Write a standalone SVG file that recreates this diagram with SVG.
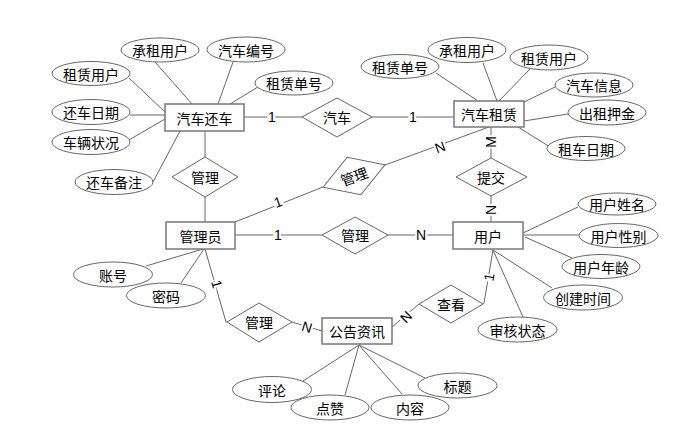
<svg xmlns="http://www.w3.org/2000/svg" width="692" height="441" viewBox="0 0 692 441">
<style>
.ent{fill:#fff;stroke:#777;stroke-width:1.5}
.rel{fill:#fff;stroke:#666;stroke-width:1}
.att{fill:#fff;stroke:#666;stroke-width:1}
.ln{stroke:#666;stroke-width:1;fill:none}
text{font-family:"Noto Sans CJK SC","Microsoft YaHei",sans-serif;font-size:14px;fill:#000;text-anchor:middle;dominant-baseline:central}
.lbl{stroke:#fff;stroke-width:4;paint-order:stroke;font-family:"Liberation Sans",sans-serif}
</style>
<rect width="692" height="441" fill="#fff"/>
<g id="connectors">
<!-- 汽车还车 attributes -->
<line class="ln" x1="155" y1="62" x2="192" y2="104"/>
<line class="ln" x1="233" y1="62" x2="218" y2="104"/>
<line class="ln" x1="258" y1="87" x2="230" y2="104"/>
<line class="ln" x1="129" y1="78" x2="165" y2="112"/>
<line class="ln" x1="130" y1="115" x2="165" y2="115"/>
<line class="ln" x1="129" y1="140" x2="165" y2="119"/>
<line class="ln" x1="153" y1="182" x2="180" y2="131"/>
<!-- 汽车租赁 attributes -->
<line class="ln" x1="436" y1="73" x2="478" y2="101"/>
<line class="ln" x1="483" y1="63" x2="497" y2="101"/>
<line class="ln" x1="530" y1="69" x2="499" y2="101"/>
<line class="ln" x1="555" y1="87" x2="524" y2="102"/>
<line class="ln" x1="568" y1="114" x2="524" y2="121"/>
<line class="ln" x1="550" y1="147" x2="518" y2="127"/>
<!-- 用户 attributes -->
<line class="ln" x1="523" y1="233" x2="578" y2="207"/>
<line class="ln" x1="523" y1="235" x2="579" y2="235"/>
<line class="ln" x1="525" y1="237" x2="572" y2="258"/>
<line class="ln" x1="493" y1="250" x2="552" y2="288"/>
<line class="ln" x1="493" y1="250" x2="523" y2="317"/>
<!-- 管理员 attributes -->
<line class="ln" x1="146" y1="266" x2="203" y2="249"/>
<line class="ln" x1="181" y1="283" x2="204" y2="249"/>
<!-- 公告资讯 attributes -->
<line class="ln" x1="359" y1="345" x2="303" y2="381"/>
<line class="ln" x1="359" y1="345" x2="345" y2="395"/>
<line class="ln" x1="359" y1="345" x2="402" y2="394"/>
<line class="ln" x1="359" y1="345" x2="425" y2="378"/>
<!-- relationships -->
<line class="ln" x1="244" y1="117" x2="302" y2="117"/>
<line class="ln" x1="372" y1="117" x2="454" y2="117"/>
<line class="ln" x1="205" y1="131" x2="205" y2="157"/>
<line class="ln" x1="205" y1="197" x2="205" y2="222"/>
<line class="ln" x1="235" y1="222" x2="323" y2="187"/>
<line class="ln" x1="385" y1="165" x2="489" y2="127"/>
<line class="ln" x1="491" y1="127" x2="491" y2="158"/>
<line class="ln" x1="491" y1="196" x2="491" y2="222"/>
<line class="ln" x1="235" y1="235" x2="322" y2="235"/>
<line class="ln" x1="388" y1="235" x2="453" y2="235"/>
<polyline class="ln" points="205,249 226,322 227,322"/>
<line class="ln" x1="292" y1="322" x2="322" y2="331"/>
<line class="ln" x1="392" y1="327" x2="419" y2="304"/>
<polyline class="ln" points="483,304 484,303 493,250"/>
<text class="lbl" x="272" y="117">1</text>
<text class="lbl" x="413" y="117">1</text>
<text class="lbl" transform="translate(278,202) rotate(-20)">1</text>
<text class="lbl" transform="translate(440,147) rotate(-20)">N</text>
<text class="lbl" transform="translate(491,142) rotate(-90)">M</text>
<text class="lbl" transform="translate(491,210) rotate(-90)">N</text>
<text class="lbl" x="278" y="235">1</text>
<text class="lbl" x="421" y="235">N</text>
<text class="lbl" transform="translate(217,284) rotate(74)">1</text>
<text class="lbl" transform="translate(307,327) rotate(17)">N</text>
<text class="lbl" transform="translate(406,317) rotate(-45)">N</text>
<text class="lbl" transform="translate(489,277) rotate(-80)">1</text>
</g>
<g id="e_huanche"><rect class="ent" x="165" y="104" width="79" height="27"/><text x="204.5" y="117.5">汽车还车</text></g>
<g id="e_zulin"><rect class="ent" x="454" y="101" width="70" height="26"/><text x="489" y="114">汽车租赁</text></g>
<g id="e_admin"><rect class="ent" x="166" y="222" width="69" height="27"/><text x="200.5" y="235.5">管理员</text></g>
<g id="e_user"><rect class="ent" x="453" y="222" width="70" height="27"/><text x="488" y="235.5">用户</text></g>
<g id="e_notice"><rect class="ent" x="322" y="318" width="70" height="26"/><text x="357" y="331">公告资讯</text></g>
<g id="r_car"><polygon class="rel" points="302,117 337,98 372,117 337,137"/><text x="337" y="117">汽车</text></g>
<g id="r_manage1"><polygon class="rel" points="172,177 205,157 238,177 205,197"/><text x="205" y="177">管理</text></g>
<g id="r_manage2" transform="translate(354,176) rotate(-20)"><polygon class="rel" points="-33,0 0,-20 33,0 0,20"/><text x="0" y="0">管理</text></g>
<g id="r_submit"><polygon class="rel" points="456,177 491,158 527,177 491,196"/><text x="491" y="177">提交</text></g>
<g id="r_manage3"><polygon class="rel" points="322,235 355,217 388,235 355,254"/><text x="355" y="235">管理</text></g>
<g id="r_manage4"><polygon class="rel" points="227,322 259,303 292,322 259,342"/><text x="259" y="322">管理</text></g>
<g id="r_view"><polygon class="rel" points="419,304 451,285 483,304 451,323"/><text x="451" y="304">查看</text></g>
<g id="a_h_chengzu"><ellipse class="att" cx="160" cy="50" rx="39" ry="12"/><text x="160" y="50">承租用户</text></g>
<g id="a_h_bianhao"><ellipse class="att" cx="246" cy="49.5" rx="39" ry="12.5"/><text x="246" y="49.5">汽车编号</text></g>
<g id="a_h_zulin"><ellipse class="att" cx="91" cy="73.5" rx="39" ry="12"/><text x="91" y="73.5">租赁用户</text></g>
<g id="a_h_danhao"><ellipse class="att" cx="294" cy="83" rx="39" ry="12"/><text x="294" y="83">租赁单号</text></g>
<g id="a_h_riqi"><ellipse class="att" cx="91" cy="112" rx="39" ry="12.5"/><text x="91" y="112">还车日期</text></g>
<g id="a_h_zhuangkuang"><ellipse class="att" cx="91" cy="142" rx="39" ry="12.5"/><text x="91" y="142">车辆状况</text></g>
<g id="a_h_beizhu"><ellipse class="att" cx="114" cy="182" rx="39" ry="12.5"/><text x="114" y="182">还车备注</text></g>
<g id="a_z_danhao"><ellipse class="att" cx="400" cy="66.5" rx="39" ry="12"/><text x="400" y="66.5">租赁单号</text></g>
<g id="a_z_chengzu"><ellipse class="att" cx="467" cy="50" rx="39" ry="12.5"/><text x="467" y="50">承租用户</text></g>
<g id="a_z_zulin"><ellipse class="att" cx="549" cy="57.5" rx="39" ry="12.5"/><text x="549" y="57.5">租赁用户</text></g>
<g id="a_z_xinxi"><ellipse class="att" cx="594" cy="85" rx="39" ry="12"/><text x="594" y="85">汽车信息</text></g>
<g id="a_z_yajin"><ellipse class="att" cx="607" cy="112.5" rx="39" ry="12.5"/><text x="607" y="112.5">出租押金</text></g>
<g id="a_z_riqi"><ellipse class="att" cx="586" cy="148.5" rx="39" ry="12"/><text x="586" y="148.5">租车日期</text></g>
<g id="a_u_name"><ellipse class="att" cx="617" cy="204" rx="39" ry="11"/><text x="617" y="204">用户姓名</text></g>
<g id="a_u_sex"><ellipse class="att" cx="618.5" cy="235.5" rx="39.5" ry="12"/><text x="618.5" y="235.5">用户性别</text></g>
<g id="a_u_age"><ellipse class="att" cx="601" cy="266.5" rx="39" ry="12"/><text x="601" y="266.5">用户年龄</text></g>
<g id="a_u_time"><ellipse class="att" cx="583" cy="297.5" rx="39.5" ry="12.5"/><text x="583" y="297.5">创建时间</text></g>
<g id="a_u_status"><ellipse class="att" cx="517.5" cy="329.5" rx="39.5" ry="12.5"/><text x="517.5" y="329.5">审核状态</text></g>
<g id="a_a_zhanghao"><ellipse class="att" cx="113" cy="274.5" rx="39.5" ry="12.5"/><text x="113" y="274.5">账号</text></g>
<g id="a_a_mima"><ellipse class="att" cx="166" cy="295.5" rx="39.5" ry="12.5"/><text x="166" y="295.5">密码</text></g>
<g id="a_n_pinglun"><ellipse class="att" cx="272" cy="389.5" rx="39.5" ry="13"/><text x="272" y="389.5">评论</text></g>
<g id="a_n_dianzan"><ellipse class="att" cx="330" cy="407.5" rx="39" ry="12.5"/><text x="330" y="407.5">点赞</text></g>
<g id="a_n_neirong"><ellipse class="att" cx="410" cy="407.5" rx="39" ry="12.5"/><text x="410" y="407.5">内容</text></g>
<g id="a_n_biaoti"><ellipse class="att" cx="457.5" cy="385.5" rx="39.5" ry="12.5"/><text x="457.5" y="385.5">标题</text></g>
</svg>
